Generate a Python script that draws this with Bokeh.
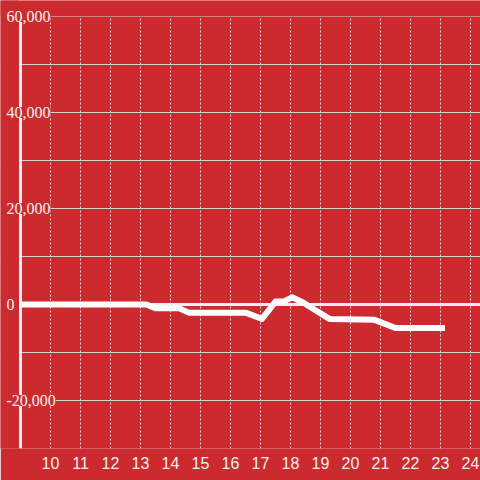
from bokeh.plotting import figure
from bokeh.models import (Span, LabelSet, ColumnDataSource, SingleIntervalTicker,
                          FixedTicker, Range1d, BoxAnnotation)
from bokeh.embed import file_html
from bokeh.resources import INLINE

# ---- data ----
hours = [9, 13.2, 13.5, 14.3, 14.6, 16.5, 17.05, 17.5, 17.8, 18.05, 18.45, 18.75,
         19.3, 20.8, 21.5, 23.15]
values = [0, 0, -800, -800, -1700, -1700, -3000, 600, 700, 1500, 300, -900,
          -3000, -3200, -4900, -4900]
x_ticks = [10, 11, 12, 13, 14, 15, 16, 17, 18, 19, 20, 21, 22, 23, 24]
y_label_values = [-20000, 0, 20000, 40000, 60000]
y_label_texts = ["-20,000", "0", "20,000", "40,000", "60,000"]
x_start, y_min, y_max = 9, -30000, 60000

BG = "#cc2a2f"
TXT = "#f0f0f0"
FONT = "Liberation Sans"

# frame covers the canvas; x=9 sits 20px in, y=60000 sits 16px down
p = figure(frame_width=480, frame_height=448,
           x_range=Range1d(x_start - 20 / 30, x_start + 460 / 30),
           y_range=Range1d(y_min, y_max + 16 * 10000 / 48),
           output_backend="svg", toolbar_location=None,
           min_border_left=0, min_border_right=0, min_border_top=0,
           min_border_bottom=32)
p.background_fill_color = BG
p.border_fill_color = BG
p.outline_line_color = None

# x axis (labels only; the bottom line is the lowest grid line)
p.xaxis.ticker = FixedTicker(ticks=x_ticks)
p.xaxis.axis_line_color = None
p.xaxis.major_tick_line_color = None
p.xaxis.minor_tick_line_color = None
p.xaxis.major_label_text_color = TXT
p.xaxis.major_label_text_font = FONT
p.xaxis.major_label_text_font_size = "16px"
p.xaxis.major_label_standoff = 2

p.yaxis.visible = False

# grids
p.xgrid.ticker = FixedTicker(ticks=x_ticks)
p.xgrid.grid_line_color = "#dddddd"
p.xgrid.grid_line_dash = "2 2"
p.xgrid.grid_line_width = 1
p.ygrid.ticker = SingleIntervalTicker(interval=10000)
p.ygrid.grid_line_color = "#d5d5d5"
p.ygrid.grid_line_width = 1

zero = Span(location=0, dimension="width", line_color="#efefef", line_width=3,
            level="underlay")
p.add_layout(zero)

p.line(hours, values, line_color="white", line_width=6, line_join="round")

# blank margin left of the y axis line and above the top grid line
p.add_layout(BoxAnnotation(right=x_start, fill_color=BG, fill_alpha=1,
                           line_color=None))
p.add_layout(Span(location=x_start, dimension="height", line_color="#f4f4f4",
                  line_width=3))
p.add_layout(BoxAnnotation(bottom=y_max, fill_color=BG, fill_alpha=1,
                           line_color=None))

src = ColumnDataSource(dict(y=y_label_values, text=y_label_texts))
labels = LabelSet(x=6, y="y", text="text", source=src, x_units="screen",
                  text_align="left", text_baseline="middle",
                  text_color=TXT, text_font=FONT, text_font_size="16px",
                  background_fill_color=BG, background_fill_alpha=1.0)
p.add_layout(labels)

open("out.html", "w").write(file_html(p, INLINE))
